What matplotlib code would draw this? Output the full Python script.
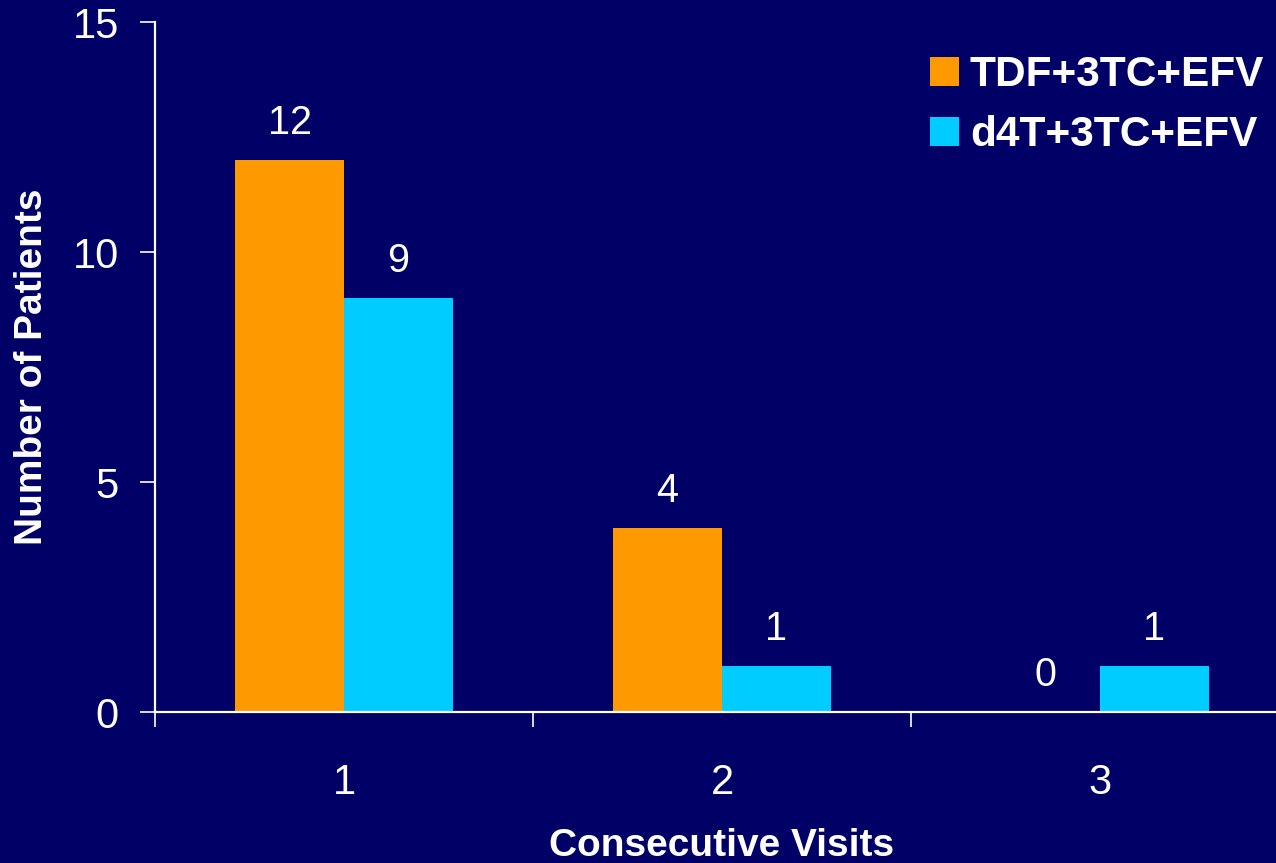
import numpy as np
import matplotlib
matplotlib.use('Agg')
import matplotlib.pyplot as plt

plt.rcParams['font.family'] = ['Liberation Sans', 'DejaVu Sans']

visits = [1, 2, 3]
tdf_values = [12, 4, 0]
d4t_values = [9, 1, 1]
series_names = ['TDF+3TC+EFV', 'd4T+3TC+EFV']

bg = '#000066'
orange = '#FF9900'
cyan = '#00CCFF'

fig = plt.figure(figsize=(12.76, 8.63), dpi=100, facecolor=bg)
ax = fig.add_axes([155/1276, 151/863, 1134/1276, 690/863], facecolor=bg)

index = np.array(visits, dtype=float)
bar_width = 0.288

rects1 = ax.bar(index, tdf_values, -bar_width, align='edge', color=orange, label=series_names[0])
rects2 = ax.bar(index, d4t_values, bar_width, align='edge', color=cyan, label=series_names[1])

for rects, vals in ((rects1, tdf_values), (rects2, d4t_values)):
    for r, v in zip(rects, vals):
        ax.annotate(str(v), (r.get_x() + r.get_width() / 2, v),
                    xytext=(0, 13), textcoords='offset points',
                    ha='center', va='bottom', color='white', fontsize=28.5)

ax.set_xlim(0.5, 3.5)
ax.set_ylim(0, 15)
ax.set_yticks([0, 5, 10, 15])
ax.set_xticks([0.5, 1.5, 2.5, 3.5])
ax.set_xticklabels([])
ax.set_xticks(visits, minor=True)
ax.set_xticklabels([str(v) for v in visits], minor=True)

ax.tick_params(axis='both', which='major', colors='white', length=11, width=1.2,
               labelsize=30, direction='out')
ax.tick_params(axis='y', pad=15)
ax.tick_params(axis='x', which='minor', length=0, labelsize=30, colors='white', pad=37)

for side in ('top', 'right'):
    ax.spines[side].set_visible(False)
for side in ('left', 'bottom'):
    ax.spines[side].set_color('white')
    ax.spines[side].set_linewidth(1.6)

ax.set_xlabel('Consecutive Visits', color='white', fontsize=28, fontweight='bold', labelpad=18)
ax.set_ylabel('Number of Patients', color='white', fontsize=28, fontweight='bold', labelpad=16)

leg = ax.legend(loc='upper left', bbox_to_anchor=(930/1276, 1 - 55/863),
                bbox_transform=fig.transFigure, frameon=False,
                handlelength=0.68, handleheight=0.68, handletextpad=0.26,
                labelspacing=0.47, borderpad=0, borderaxespad=0,
                prop={'weight': 'bold', 'size': 30.5})
for t in leg.get_texts():
    t.set_color('white')

fig.savefig('out.png', dpi=100, facecolor=bg)
